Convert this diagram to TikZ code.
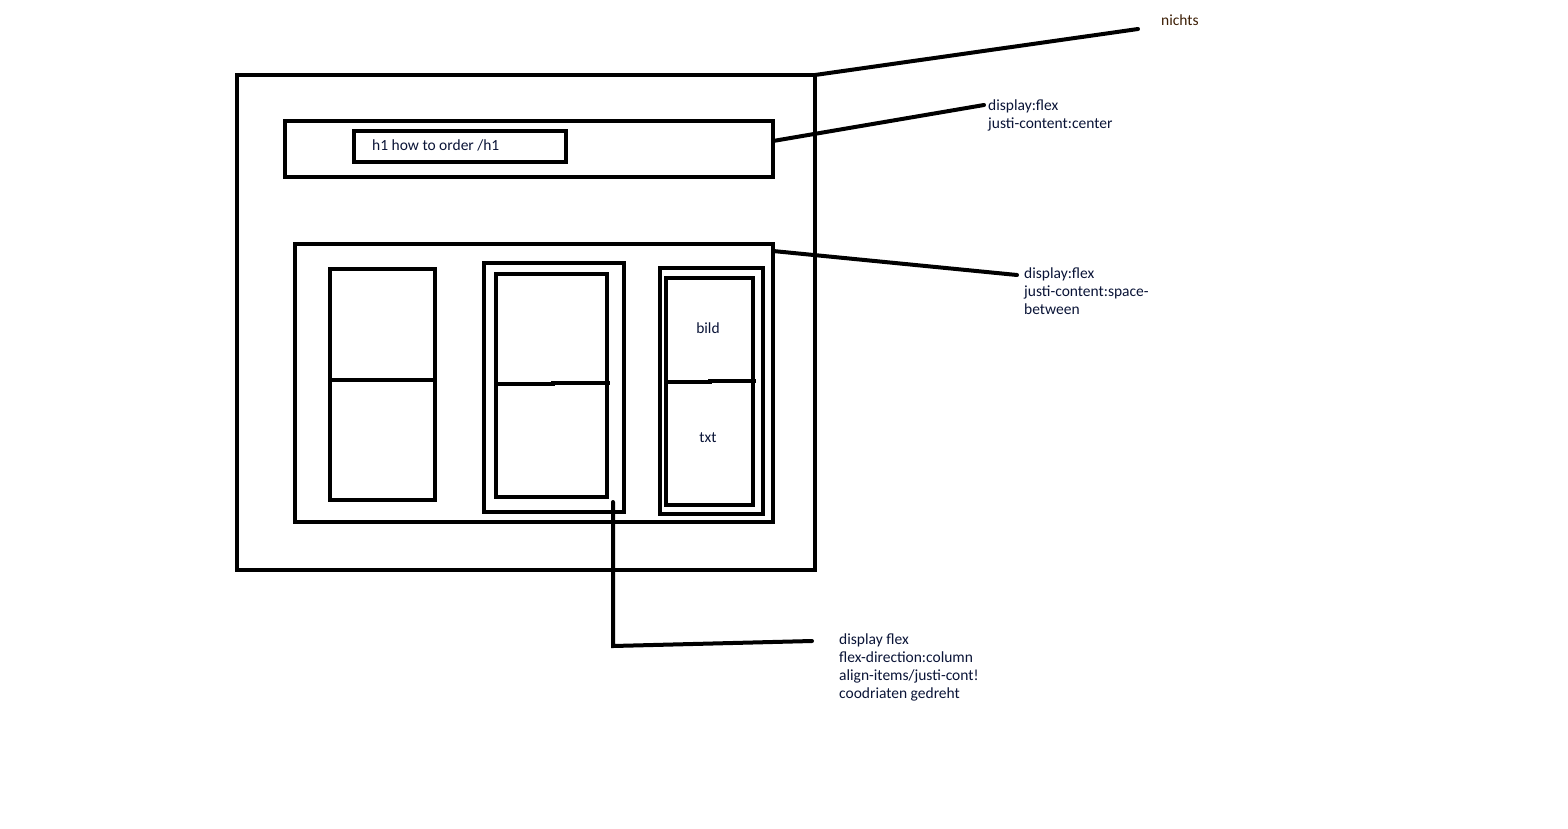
\documentclass[tikz,border=0pt]{standalone}
\usepackage{fontspec}
\setmainfont{Carlito}
\definecolor{txtblue}{RGB}{10,20,55}
\definecolor{txtbrown}{RGB}{60,30,5}
\begin{document}
\begin{tikzpicture}[x=1pt,y=-1pt,
  boxline/.style={draw=black,line width=4pt,inner sep=0pt,outer sep=0pt},
  conn/.style={draw=black,line width=4pt,line cap=round},
  lbl/.style={font=\fontsize{15.5}{18}\selectfont,text=txtblue,inner sep=0pt,align=left,anchor=base west},
]
\useasboundingbox[fill=white] (0,0) rectangle (1568,828);
% outer page
\node[boxline,minimum width=578pt,minimum height=495pt] (page) at (526,322.5) {};
% header
\node[boxline,minimum width=488pt,minimum height=56pt] (header) at (529,149) {};
\node[boxline,minimum width=212pt,minimum height=31pt] (h1) at (460,146.5) {};
\node[lbl,text=txtblue] (h1t) at (372,150) {h1 how to order /h1};
% cards container
\node[boxline,minimum width=478pt,minimum height=278pt] (cards) at (534,383) {};
% card 1
\node[boxline,minimum width=105pt,minimum height=231pt] (c1) at (382.5,384.5) {};
\draw[conn,line cap=butt] (330,380) -- (437,380);
% card 2
\node[boxline,minimum width=140pt,minimum height=249pt] (c2o) at (554,387.5) {};
\node[boxline,minimum width=111pt,minimum height=223pt] (c2) at (551.5,385.5) {};
\draw[conn,line cap=butt] (496,384) -- (553,384) -- (553,383) -- (610,383);
% card 3
\node[boxline,minimum width=103pt,minimum height=246pt] (c3o) at (711.5,391) {};
\node[boxline,minimum width=87pt,minimum height=227pt] (c3) at (709.5,391.5) {};
\draw[conn,line cap=butt] (666,382) -- (710,382) -- (710,381) -- (756,381);
\node[lbl,anchor=center] (bild) at (708,328) {bild};
\node[lbl,anchor=center] (txt) at (708,438) {txt};
% connectors and labels
\coordinate (n1) at (1138,29);
\draw[conn] (page.north east) -- (n1);
\node[lbl,text=txtbrown] (nichts) at (1161,25) {nichts};
\coordinate (n2) at (984,105);
\draw[conn] (773,141) -- (n2);
\node[lbl] (l2) at (988,128) {display:flex\\justi-content:center};
\coordinate (n3) at (1017,275);
\draw[conn] (cards.north east) ++(0,7) -- (n3);
\node[lbl] (l3) at (1024,314) {display:flex\\justi-content:space-\\between};
\coordinate (n4a) at (613,646);
\coordinate (n4b) at (812,641);
\draw[conn] (613,502) -- (n4a) -- (n4b);
\node[lbl] (l4) at (839,698) {display flex\\flex-direction:column\\align-items/justi-cont!\\coodriaten gedreht};
\end{tikzpicture}
\end{document}
